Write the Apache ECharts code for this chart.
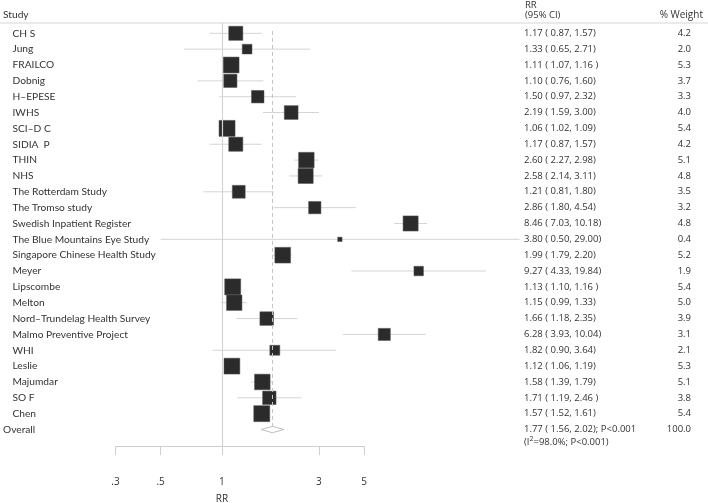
<!DOCTYPE html>
<html>
<head>
<meta charset="utf-8">
<script src="https://cdn.jsdelivr.net/npm/echarts@6/dist/echarts.min.js"></script>
<style>
  html, body { margin: 0; padding: 0; background: #fff; }
  #chart { width: 708px; height: 503px; }
</style>
</head>
<body>
<div id="chart"></div>
<script>
(function () {
    'use strict';

    // data
    var studies = ['CH S', 'Jung', 'FRAILCO', 'Dobnig', 'H\u2013EPESE', 'IWHS', 'SCI\u2013D C', 'SIDIA  P', 'THIN', 'NHS',
        'The Rotterdam Study', 'The Tromso study', 'Swedish Inpatient Register', 'The Blue Mountains Eye Study',
        'Singapore Chinese Health Study', 'Meyer', 'Lipscombe', 'Melton', 'Nord\u2013Trundelag Health Survey',
        'Malmo Preventive Project', 'WHI', 'Leslie', 'Majumdar', 'SO F', 'Chen'];
    var rr = [1.17, 1.33, 1.11, 1.10, 1.50, 2.19, 1.06, 1.17, 2.60, 2.58, 1.21, 2.86, 8.46, 3.80, 1.99, 9.27, 1.13, 1.15, 1.66, 6.28, 1.82, 1.12, 1.58, 1.71, 1.57];
    var lo = [0.87, 0.65, 1.07, 0.76, 0.97, 1.59, 1.02, 0.87, 2.27, 2.14, 0.81, 1.80, 7.03, 0.50, 1.79, 4.33, 1.10, 0.99, 1.18, 3.93, 0.90, 1.06, 1.39, 1.19, 1.52];
    var hi = [1.57, 2.71, 1.16, 1.60, 2.32, 3.00, 1.09, 1.57, 2.98, 3.11, 1.80, 4.54, 10.18, 29.00, 2.20, 19.84, 1.16, 1.33, 2.35, 10.04, 3.64, 1.19, 1.79, 2.46, 1.61];
    var weight = [4.2, 2.0, 5.3, 3.7, 3.3, 4.0, 5.4, 4.2, 5.1, 4.8, 3.5, 3.2, 4.8, 0.4, 5.2, 1.9, 5.4, 5.0, 3.9, 3.1, 2.1, 5.3, 5.1, 3.8, 5.4];
    var ciLabels = ['1.17 ( 0.87, 1.57)', '1.33 ( 0.65, 2.71)', '1.11 ( 1.07, 1.16 )', '1.10 ( 0.76, 1.60)', '1.50 ( 0.97, 2.32)',
        '2.19 ( 1.59, 3.00)', '1.06 ( 1.02, 1.09)', '1.17 ( 0.87, 1.57)', '2.60 ( 2.27, 2.98)', '2.58 ( 2.14, 3.11)',
        '1.21 ( 0.81, 1.80)', '2.86 ( 1.80, 4.54)', '8.46 ( 7.03, 10.18)', '3.80 ( 0.50, 29.00)', '1.99 ( 1.79, 2.20)',
        '9.27 ( 4.33, 19.84)', '1.13 ( 1.10, 1.16 )', '1.15 ( 0.99, 1.33)', '1.66 ( 1.18, 2.35)', '6.28 ( 3.93, 10.04)',
        '1.82 ( 0.90, 3.64)', '1.12 ( 1.06, 1.19)', '1.58 ( 1.39, 1.79)', '1.71 ( 1.19, 2.46 )', '1.57 ( 1.52, 1.61)'];

    var overall = {rr: 1.77, lo: 1.56, hi: 2.02, weight: '100.0', label: '1.77 ( 1.56, 2.02); P<0.001'};
    var axisTicks = [0.3, 0.5, 1, 3, 5];
    var axisTickLabels = ['.3', '.5', '1', '3', '5'];

    var FONT = 'Lato';
    var NUMFONT = 'Open Sans';
    var TXT = '#333';

    var rows = studies.map(function (s, i) {
        return [rr[i], i, lo[i], hi[i], weight[i]];
    });
    var nRows = studies.length; // overall sits at index nRows

    function txt(text, family, size, extra) {
        var s = {text: text, fill: TXT, fontFamily: family, fontSize: size, verticalAlign: 'middle'};
        for (var k in extra) { s[k] = extra[k]; }
        return s;
    }

    var myChart = echarts.init(document.getElementById('chart'));

    var option = {
        animation: false,
        textStyle: {fontFamily: FONT},
        grid: [
            {left: 115.5, width: 407, top: 23, height: 423},
            {left: 115.5, width: 248.6, top: 440, height: 6}
        ],
        xAxis: [
            {
                type: 'log', logBase: 10, min: 0.3, max: 30, gridIndex: 0,
                axisLine: {show: false}, axisTick: {show: false},
                axisLabel: {show: false}, splitLine: {show: false}
            },
            {
                type: 'log', logBase: 10, min: 0.3, max: 5, gridIndex: 1,
                axisLine: {show: true, lineStyle: {color: '#cfcfcf', width: 1}},
                axisTick: {show: true, length: 9, customValues: axisTicks, lineStyle: {color: '#cfcfcf'}},
                axisLabel: {
                    show: true, customValues: axisTicks, margin: 31,
                    color: TXT, fontSize: 10, fontFamily: NUMFONT,
                    formatter: function (v) {
                        var k = axisTicks.indexOf(+v);
                        return k >= 0 ? axisTickLabels[k] : '';
                    }
                },
                splitLine: {show: false}
            }
        ],
        yAxis: [
            {type: 'value', inverse: true, min: -0.65, max: 26.04, gridIndex: 0, show: false},
            {type: 'value', gridIndex: 1, show: false}
        ],
        graphic: [
            {type: 'line', shape: {x1: 0, y1: 23, x2: 708, y2: 23}, style: {stroke: '#d5d5d5', lineWidth: 1}},
            {type: 'text', x: 3, y: 15, style: txt('Study', FONT, 10.2)},
            {type: 'text', x: 525, y: 5.5, style: txt('RR', NUMFONT, 9.5)},
            {type: 'text', x: 525, y: 15.5, style: txt('(95% CI)', NUMFONT, 9.5)},
            {type: 'text', x: 703, y: 15, style: txt('% Weight', NUMFONT, 10, {align: 'right'})},
            {type: 'text', x: 222, y: 499, style: txt('RR', NUMFONT, 10, {align: 'center'})}
        ],
        series: [
            // CI whiskers
            {
                type: 'custom', xAxisIndex: 0, yAxisIndex: 0, z: 2, clip: true,
                data: rows,
                renderItem: function (params, api) {
                    var a = api.coord([api.value(2), api.value(1)]);
                    var b = api.coord([api.value(3), api.value(1)]);
                    return {
                        type: 'line',
                        shape: {x1: a[0], y1: a[1], x2: b[0], y2: b[1]},
                        style: {stroke: '#d4d4d4', lineWidth: 1}
                    };
                }
            },
            // weighted squares
            {
                type: 'scatter', xAxisIndex: 0, yAxisIndex: 0, z: 3,
                symbol: 'rect',
                symbolSize: function (val) { return 6.9 * Math.sqrt(val[4]); },
                itemStyle: {color: '#2b2b2b', borderColor: '#555', borderWidth: 0.5, opacity: 1},
                data: rows,
                markLine: {
                    silent: true, symbol: 'none', label: {show: false},
                    data: [
                        {xAxis: 1, lineStyle: {color: '#d4d4d4', type: 'solid', width: 1.2}},
                        [
                            {coord: [overall.rr, -0.15], lineStyle: {color: '#c4c4c4', type: [4, 3], width: 1}},
                            {coord: [overall.rr, nRows - 0.2]}
                        ]
                    ]
                }
            },
            // overall diamond
            {
                type: 'custom', xAxisIndex: 0, yAxisIndex: 0, z: 3,
                data: [[overall.rr, nRows, overall.lo, overall.hi]],
                renderItem: function (params, api) {
                    var c = api.coord([api.value(0), api.value(1)]);
                    var l = api.coord([api.value(2), api.value(1)]);
                    var r = api.coord([api.value(3), api.value(1)]);
                    return {
                        type: 'polygon',
                        shape: {points: [[l[0], c[1]], [c[0], c[1] - 3.2], [r[0], c[1]], [c[0], c[1] + 3.2]]},
                        style: {fill: '#fff', stroke: '#bdbdbd', lineWidth: 1}
                    };
                }
            },
            // table text
            {
                type: 'custom', xAxisIndex: 0, yAxisIndex: 0, z: 4, clip: false,
                data: studies.map(function (s, i) { return [1, i]; }).concat([[1, nRows]]),
                renderItem: function (params, api) {
                    var i = params.dataIndex;
                    var y = api.coord([1, api.value(1)])[1];
                    var isOverall = i === nRows;
                    var children = [
                        {type: 'text', x: isOverall ? 3 : 12.5, y: y, style: txt(isOverall ? 'Overall' : studies[i], FONT, 10.2)},
                        {type: 'text', x: 524, y: y, style: txt(isOverall ? overall.label : ciLabels[i], NUMFONT, 9.5)},
                        {type: 'text', x: 691, y: y, style: txt(isOverall ? overall.weight : weight[i].toFixed(1), NUMFONT, 9.5, {align: 'right'})}
                    ];
                    if (isOverall) {
                        children.push({
                            type: 'text', x: 524, y: y + 12.5,
                            style: txt('(I{sup|2}=98.0%; P<0.001)', NUMFONT, 9.5, {
                                rich: {sup: {fontSize: 7, fontFamily: NUMFONT, fill: TXT, padding: [0, 0, 6, 0]}}
                            })
                        });
                    }
                    return {type: 'group', children: children};
                }
            }
        ]
    };

    myChart.setOption(option);
})();
</script>
</body>
</html>
